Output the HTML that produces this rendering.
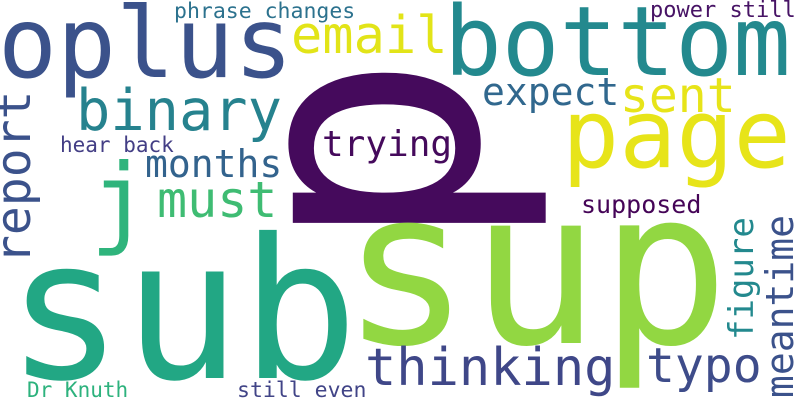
<!DOCTYPE html>
<html><head><meta charset="utf-8"><style>
html,body{margin:0;padding:0;background:#fff;width:800px;height:400px;overflow:hidden;}
svg{display:block;overflow:hidden;}
text{font-family:"DejaVu Sans Mono","Liberation Mono",monospace;}
</style></head><body>
<svg width="800" height="400" viewBox="0 0 800 400">
<rect width="800" height="400" fill="#fff"/>
<text x="-2" y="77" font-size="98" fill="#3b528b">oplus</text>
<text x="174" y="18" font-size="21.5" fill="#2c728e">phrase changes</text>
<text x="291" y="53" font-size="52" fill="#e2e418">email</text>
<text x="444" y="75" font-size="96" fill="#23898e">bottom</text>
<text x="650" y="17" font-size="22" fill="#471365">power still</text>
<text x="76" y="130" font-size="57" fill="#26828e">binary</text>
<text x="482" y="105" font-size="38" fill="#31688e">expect</text>
<text x="620" y="112" font-size="48" fill="#e7e419">sent</text>
<text x="562" y="167" font-size="95" fill="#e7e419">page</text>
<text transform="translate(476,254) rotate(-90)" x="0" y="0" font-size="335" fill="#450a5c">p</text>
<text x="322" y="156" font-size="36" fill="#450a5c">trying</text>
<text x="60" y="152" font-size="21" fill="#433e85">hear back</text>
<text x="145" y="177" font-size="38" fill="#33638d">months</text>
<text x="90" y="235" font-size="100" fill="#2fb47c">j</text>
<text x="157" y="217" font-size="50" fill="#3fbc73">must</text>
<text transform="translate(30,264) rotate(-90)" x="0" y="0" font-size="48" fill="#3b528b">report</text>
<text transform="translate(753,340) rotate(-90)" x="0" y="0" font-size="34" fill="#23898e">figure</text>
<text transform="translate(793,398) rotate(-90)" x="0" y="0" font-size="38" fill="#3b528b">meantime</text>
<text x="581" y="213" font-size="25" fill="#450457">supposed</text>
<text x="341" y="343" font-size="215" fill="#92d742">sup</text>
<text x="6" y="378" font-size="195" fill="#22a784">sub</text>
<text x="365" y="385" font-size="52" fill="#3f4788">thinking</text>
<text x="646" y="382" font-size="48" fill="#3e4c8a">typo</text>
<text x="27" y="397" font-size="21" fill="#2db27d">Dr Knuth</text>
<text x="237" y="397" font-size="21.5" fill="#414487">still even</text>
</svg>
</body></html>
